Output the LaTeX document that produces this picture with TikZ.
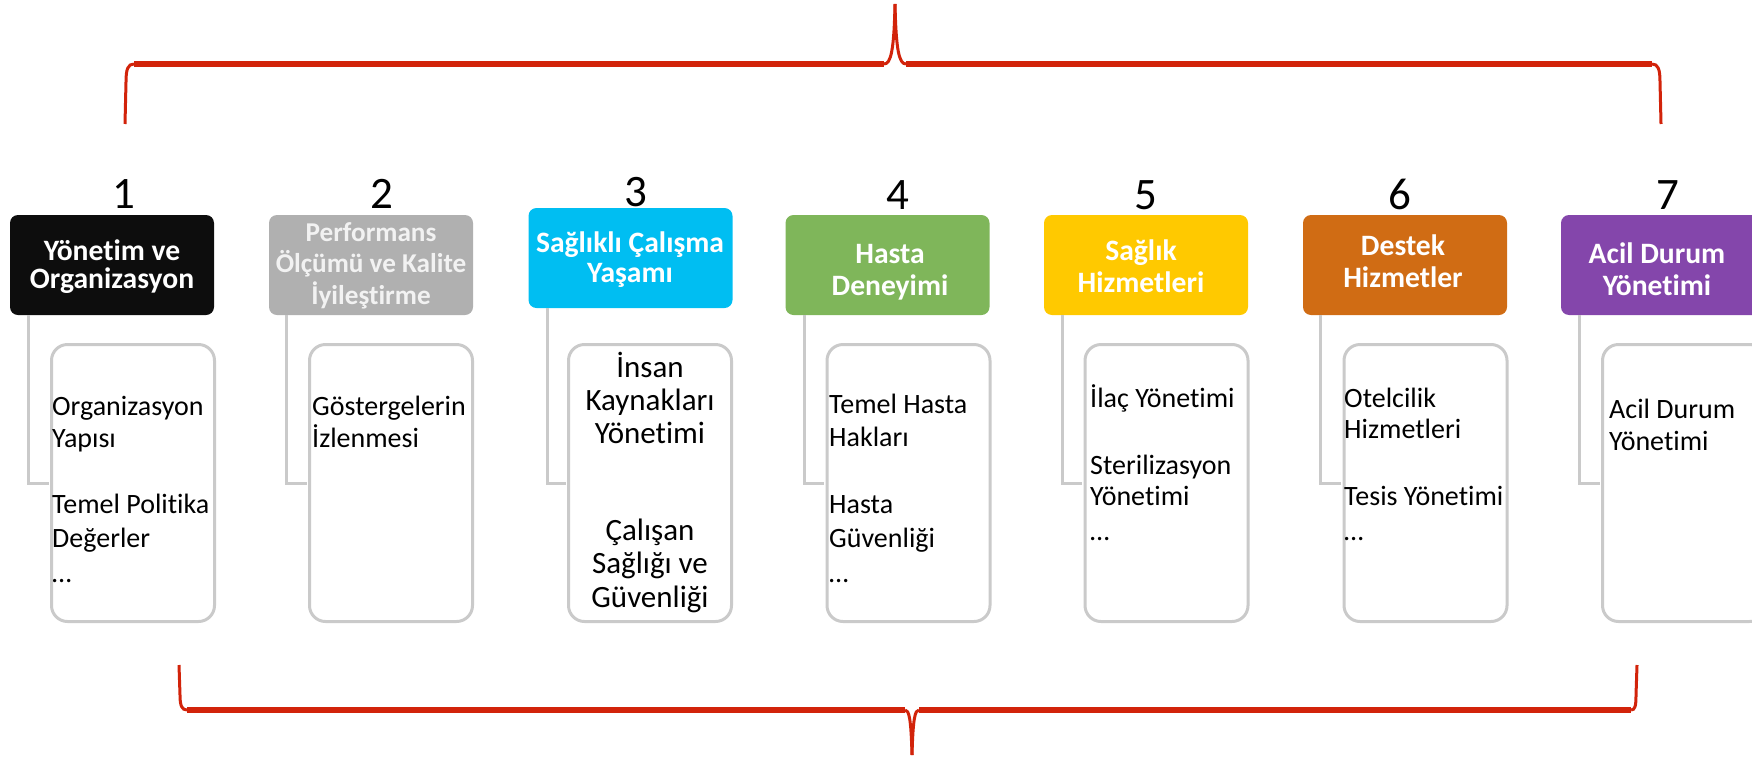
\documentclass[tikz,border=0pt]{standalone}
\usepackage{fontspec}
\setmainfont[Ligatures=NoCommon]{Carlito}
\definecolor{hblack}{HTML}{0D0D0D}
\definecolor{hgrey}{HTML}{B0B0B0}
\definecolor{hcyan}{HTML}{00BEF2}
\definecolor{hgreen}{HTML}{7FB65A}
\definecolor{hyellow}{HTML}{FFC900}
\definecolor{horange}{HTML}{D06C14}
\definecolor{hpurple}{HTML}{8446AB}
\definecolor{bracered}{HTML}{D2230A}
\definecolor{subgray}{HTML}{CACACA}
\definecolor{paletext}{HTML}{F2F2F2}
\begin{document}
\begin{tikzpicture}[x=1pt,y=-1pt,
  hdr/.style={rounded corners=8pt, minimum width=204pt, minimum height=100pt, inner sep=0pt},
  subbox/.style={draw=subgray, line width=3pt, fill=white, rounded corners=16pt, minimum width=163pt, minimum height=277pt, inner sep=0pt},
  conn/.style={draw=subgray, line width=3pt},
  num/.style={font=\fontsize{45}{45}\selectfont, anchor=base, inner sep=0pt},
  htxt/.style={font=\fontsize{29.6}{30}\selectfont\bfseries, text=white, anchor=base, inner sep=0pt},
  htxtsm/.style={font=\fontsize{27.2}{30}\selectfont\bfseries, text=paletext, anchor=base, inner sep=0pt},
  stxt/.style={font=\fontsize{28}{33}\selectfont, anchor=base west, inner sep=0pt},
  ctxt/.style={font=\fontsize{31}{34}\selectfont, anchor=base, inner sep=0pt},
  bracev/.style={draw=bracered, line width=3pt},
  braceh/.style={draw=bracered, line width=5.5pt}]
\useasboundingbox (0,0) rectangle (1752,758);
\clip (0,0) rectangle (1752,758);

% braces
\coordinate (tl) at (125,124);
\coordinate (tr) at (1661,124);
\coordinate (tt) at (895,4);
\draw[bracev] (tl) -- (126,82) .. controls (126,69) and (128,64) .. (134,64);
\draw[braceh] (134,64) -- (884,64);
\draw[bracev] (884,64) .. controls (891,64) and (894,50) .. (tt);
\draw[bracev] (tt) .. controls (896,50) and (899,64) .. (906,64);
\draw[braceh] (906,64) -- (1652,64);
\draw[bracev] (1652,64) .. controls (1658,64) and (1660,69) .. (1660,82) -- (tr);

\coordinate (bl) at (179,665);
\coordinate (br) at (1637,665);
\coordinate (bt) at (912,755);
\draw[bracev] (bl) -- (180,695) .. controls (180,706) and (182,710) .. (187,710);
\draw[braceh] (187,710) -- (905,710);
\draw[bracev] (905,710) .. controls (909,710) and (911,718) .. (bt);
\draw[bracev] (bt) .. controls (913,718) and (915,710) .. (919,710);
\draw[braceh] (919,710) -- (1631,710);
\draw[bracev] (1631,710) .. controls (1635,710) and (1636,706) .. (1636,695) -- (br);

% numbers
\node[num] (n1) at (124,208) {1};
\node[num] (n2) at (382,208) {2};
\node[num] (n3) at (636,206) {3};
\node[num] (n4) at (898,209) {4};
\node[num] (n5) at (1146,209) {5};
\node[num] (n6) at (1400,209) {6};
\node[num] (n7) at (1668,209) {7};

% headers
\node[hdr, fill=hblack] (h1) at (112,265) {};
\node[hdr, fill=hgrey] (h2) at (371,265) {};
\node[hdr, fill=hcyan] (h3) at (630.5,258) {};
\node[hdr, fill=hgreen] (h4) at (887.5,265) {};
\node[hdr, fill=hyellow] (h5) at (1146,265) {};
\node[hdr, fill=horange] (h6) at (1405,265) {};
\node[hdr, fill=hpurple] (h7) at (1663,265) {};

% sub boxes
\coordinate (s1c) at (133,483);
\coordinate (s2c) at (391,483);
\coordinate (s3c) at (650,483);
\coordinate (s4c) at (908.5,483);
\coordinate (s5c) at (1166.5,483);
\coordinate (s6c) at (1425.5,483);
\coordinate (s7c) at (1684,483);

\node[subbox] (s1) at (s1c) {};
\node[subbox] (s2) at (s2c) {};
\node[subbox] (s3) at (s3c) {};
\node[subbox] (s4) at (s4c) {};
\node[subbox] (s5) at (s5c) {};
\node[subbox] (s6) at (s6c) {};
\node[subbox] (s7) at (s7c) {};

% connectors
\draw[conn] ([xshift=19pt]h1.south west) |- ([xshift=-1.5pt]s1.west);
\draw[conn] ([xshift=18pt]h2.south west) |- ([xshift=-1.5pt]s2.west);
\draw[conn] ([xshift=19pt]h3.south west) |- ([xshift=-1.5pt]s3.west);
\draw[conn] ([xshift=19pt]h4.south west) |- ([xshift=-1.5pt]s4.west);
\draw[conn] ([xshift=19pt]h5.south west) |- ([xshift=-1.5pt]s5.west);
\draw[conn] ([xshift=18pt]h6.south west) |- ([xshift=-1.5pt]s6.west);
\draw[conn] ([xshift=19pt]h7.south west) |- ([xshift=-1.5pt]s7.west);

% header texts
\node[htxt] (t1a) at (112,260) {Yönetim ve};
\node[htxt] (t1b) at (112,288) {Organizasyon};
\node[htxtsm] (t2a) at (371,241) {Performans};
\node[htxtsm] (t2b) at (371,272) {Ölçümü ve Kalite};
\node[htxtsm] (t2c) at (371,304) {İyileştirme};
\node[htxt] (t3a) at (630,252) {Sağlıklı Çalışma};
\node[htxt] (t3b) at (630,282) {Yaşamı};
\node[htxt] (t4a) at (890,263) {Hasta};
\node[htxt] (t4b) at (890,295) {Deneyimi};
\node[htxt] (t5a) at (1141,260) {Sağlık};
\node[htxt] (t5b) at (1141,292) {Hizmetleri};
\node[htxt] (t6a) at (1403,255) {Destek};
\node[htxt] (t6b) at (1403,287) {Hizmetler};
\node[htxt] (t7a) at (1657,263) {Acil Durum};
\node[htxt] (t7b) at (1657,295) {Yönetimi};

% sub texts
\node[stxt] (u1a) at (52,415) {Organizasyon};
\node[stxt] (u1b) at (52,447) {Yapısı};
\node[stxt] (u1c) at (52,513) {Temel Politika};
\node[stxt] (u1d) at (52,547) {Değerler};
\node[stxt] (u1e) at (52,582) {…};

\node[stxt] (u2a) at (312,415) {Göstergelerin};
\node[stxt] (u2b) at (312,447) {İzlenmesi};

\node[ctxt] (u3a) at (650,377) {İnsan};
\node[ctxt] (u3b) at (650,410) {Kaynakları};
\node[ctxt] (u3c) at (650,443) {Yönetimi};
\node[ctxt] (u3d) at (650,540) {Çalışan};
\node[ctxt] (u3e) at (650,573) {Sağlığı ve};
\node[ctxt] (u3f) at (650,607) {Güvenliği};

\node[stxt] (u4a) at (829,413) {Temel Hasta};
\node[stxt] (u4b) at (829,446) {Hakları};
\node[stxt] (u4c) at (829,513) {Hasta};
\node[stxt] (u4d) at (829,547) {Güvenliği};
\node[stxt] (u4e) at (829,582) {…};

\node[stxt] (u5a) at (1090,407) {İlaç Yönetimi};
\node[stxt] (u5b) at (1090,474) {Sterilizasyon};
\node[stxt] (u5c) at (1090,505) {Yönetimi};
\node[stxt] (u5d) at (1090,540) {…};

\node[stxt] (u6a) at (1344,407) {Otelcilik};
\node[stxt] (u6b) at (1344,438) {Hizmetleri};
\node[stxt] (u6c) at (1344,505) {Tesis Yönetimi};
\node[stxt] (u6d) at (1344,540) {…};

\node[stxt] (u7a) at (1609,418) {Acil Durum};
\node[stxt] (u7b) at (1609,450) {Yönetimi};
\end{tikzpicture}
\end{document}
